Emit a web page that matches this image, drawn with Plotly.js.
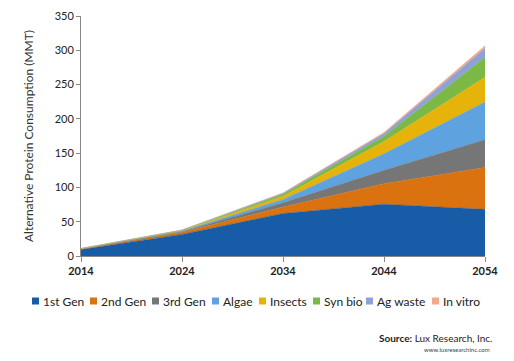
<!DOCTYPE html>
<html>
<head>
<meta charset="utf-8">
<script src="https://cdn.plot.ly/plotly-3.0.1.min.js"></script>
<style>html,body{margin:0;padding:0;background:#fff;}#chart{width:514px;height:361px;}</style>
</head>
<body>
<div id="chart"></div>
<script>
var years = [2014, 2024, 2034, 2044, 2054];
var seriesNames = ["1st Gen", "2nd Gen", "3rd Gen", "Algae", "Insects", "Syn bio", "Ag waste", "In vitro"];
var gen1 = [9.5, 31.5, 62, 75.5, 68];
var gen2 = [0.5, 3, 9.5, 30, 61];
var gen3 = [0.3, 1, 6, 19.5, 40.5];
var algae = [0.2, 0.8, 5, 24, 55];
var insects = [0.2, 0.7, 4.5, 18, 36];
var synbio = [0.1, 0.5, 3, 7.5, 29];
var agwaste = [0.1, 0.3, 1.5, 4, 13.5];
var invitro = [0, 0.2, 0.5, 1.5, 3.5];
var yTicks = [0, 50, 100, 150, 200, 250, 300, 350];

var colors = ["#175ca6", "#d9720f", "#767676", "#5ea3e0", "#e6b30b", "#7cb846", "#8ea2d6", "#f3a98a"];
var values = [gen1, gen2, gen3, algae, insects, synbio, agwaste, invitro];

var font = "Lato, 'Open Sans', sans-serif";
var traces = values.map(function (v, i) {
  return {
    type: "scatter",
    x: years,
    y: v,
    name: seriesNames[i],
    stackgroup: "one",
    mode: "lines",
    line: {width: 0.5, color: colors[i]},
    fillcolor: colors[i],
    showlegend: false
  };
});

// Custom compact legend (pixel layout converted to paper coords)
var plotL = 81, plotW = 404, plotB = 256, plotH = 240;
function px(x) { return (x - plotL) / plotW; }
function py(y) { return (plotB - y) / plotH; }
var legendSquareX = [32, 90, 152, 212, 259, 313, 366, 432];
var legendY = 301;
var shapes = [];
var annotations = [];
seriesNames.forEach(function (n, i) {
  var x0 = legendSquareX[i];
  shapes.push({type: "rect", xref: "paper", yref: "paper",
    x0: px(x0), x1: px(x0 + 7), y0: py(legendY + 3.5), y1: py(legendY - 3.5),
    fillcolor: colors[i], line: {width: 0}});
  annotations.push({xref: "paper", yref: "paper", x: px(x0 + 9), y: py(legendY),
    xanchor: "left", yanchor: "middle", showarrow: false, text: n,
    font: {family: font, size: 12, color: "#222"}});
});
annotations.push({xref: "paper", yref: "paper", x: px(494), y: py(338), xanchor: "right", yanchor: "middle", showarrow: false,
  text: "<b>Source:</b> Lux Research, Inc.", font: {family: font, size: 10, color: "#222"}});
annotations.push({xref: "paper", yref: "paper", x: px(492), y: py(349), xanchor: "right", yanchor: "middle", showarrow: false,
  text: "www.luxresearchinc.com", font: {family: font, size: 6, color: "#444"}});

var layout = {
  width: 514, height: 361,
  margin: {l: 81, r: 29, t: 16, b: 105},
  paper_bgcolor: "#fff", plot_bgcolor: "#fff",
  showlegend: false,
  font: {family: font, color: "#222", size: 11},
  xaxis: {
    range: [2014, 2054], tickvals: years, ticktext: years.map(String),
    showgrid: false, zeroline: false, showline: true, linecolor: "#888", linewidth: 1,
    ticks: "outside", ticklen: 5, tickcolor: "#888",
    tickfont: {family: font, size: 11, color: "#222", weight: "bold"}
  },
  yaxis: {
    range: [0, 350], tickvals: yTicks,
    showgrid: false, zeroline: false, showline: true, linecolor: "#888", linewidth: 1,
    ticks: "outside", ticklen: 4, tickcolor: "#888",
    tickfont: {family: font, size: 11, color: "#222"},
    title: {text: "Alternative Protein Consumption (MMT)", font: {family: font, size: 12, color: "#333"}, standoff: 18}
  },
  shapes: shapes,
  annotations: annotations
};

Plotly.newPlot("chart", traces, layout, {displayModeBar: false, staticPlot: true});
</script>
</body>
</html>
